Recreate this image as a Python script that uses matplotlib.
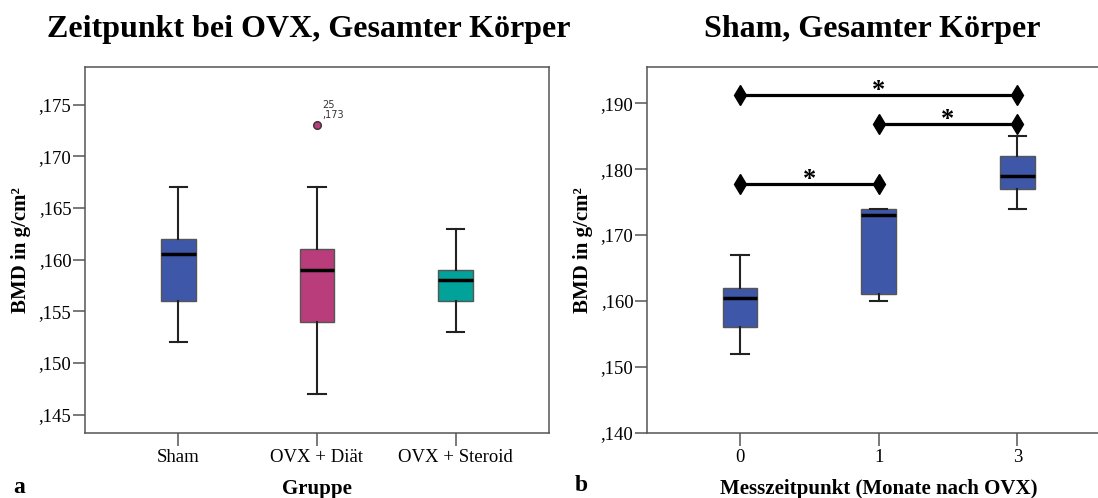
import matplotlib
matplotlib.use("Agg")
import matplotlib.pyplot as plt

# ── Daten ────────────────────────────────────────────────────────────────
groups_a = ["Sham", "OVX + Diät", "OVX + Steroid"]
whislo_a = [0.152, 0.147, 0.153]
q1_a = [0.156, 0.154, 0.156]
med_a = [0.1605, 0.159, 0.158]
q3_a = [0.162, 0.161, 0.159]
whishi_a = [0.167, 0.167, 0.163]
fliers_a = [[], [0.173], []]
flier_label = "25\n,173"
colors_a = ["#3F57A8", "#B83D7A", "#00A29A"]
yticks_a = [0.145, 0.150, 0.155, 0.160, 0.165, 0.170, 0.175]

times_b = ["0", "1", "3"]
whislo_b = [0.152, 0.160, 0.174]
q1_b = [0.156, 0.161, 0.177]
med_b = [0.1605, 0.173, 0.179]
q3_b = [0.162, 0.174, 0.182]
whishi_b = [0.167, 0.174, 0.185]
color_b = "#3F57A8"
yticks_b = [0.140, 0.150, 0.160, 0.170, 0.180, 0.190]
# Signifikanzbalken: (von, bis, Höhe)
sig_pairs = [(0, 1, 0.1777), (1, 2, 0.1869), (0, 2, 0.1912)]

SERIF = ["Liberation Serif", "DejaVu Serif"]
plt.rcParams["font.family"] = SERIF
W, H = 1098, 498


def fmt(v):
    return "," + f"{v:.3f}".split(".")[1]


def style_axes(ax):
    for s in ["top", "right", "left", "bottom"]:
        ax.spines[s].set_color("#555555")
        ax.spines[s].set_linewidth(1.1)
    ax.tick_params(axis="both", direction="out", length=9, width=1.1,
                   color="#555555", labelsize=13.5, right=False, top=False)
    ax.tick_params(axis="y", pad=1)
    ax.tick_params(axis="x", pad=3)


def draw_boxes(ax, lo, q1, med, q3, hi, fl, colors, positions):
    stats = []
    for i in range(len(med)):
        stats.append({"whislo": lo[i], "q1": q1[i], "med": med[i],
                      "q3": q3[i], "whishi": hi[i], "fliers": fl[i]})
    bp = ax.bxp(stats, positions=positions, widths=0.25, patch_artist=True,
                showfliers=True,
                boxprops=dict(edgecolor="#555555", linewidth=1.0),
                medianprops=dict(color="black", linewidth=2.5),
                whiskerprops=dict(color="#222222", linewidth=1.5),
                capprops=dict(color="#222222", linewidth=1.5),
                capwidths=0.125,
                flierprops=dict(marker="o", markersize=5.5,
                                markeredgecolor="#333333", linewidth=0))
    for patch, c in zip(bp["boxes"], colors):
        patch.set_facecolor(c)
    for f, c in zip(bp["fliers"], colors):
        f.set_markerfacecolor(c)
    return bp


def label_axes(ax, ylabel, xlabel):
    ax.set_ylabel(ylabel, fontsize=15, fontweight="bold")
    ax.yaxis.set_label_coords(-0.118, 0.5)
    ax.set_xlabel(xlabel, fontsize=15, fontweight="bold", va="top")
    ax.xaxis.set_label_coords(0.5, -0.126)


fig = plt.figure(figsize=(W / 100, H / 100), dpi=100)

# ── Panel a ──────────────────────────────────────────────────────────────
ax1 = fig.add_axes([85.3 / W, 1 - 432.7 / H, 463.4 / W, 365.4 / H])
pos_a = [1, 2, 3]
draw_boxes(ax1, whislo_a, q1_a, med_a, q3_a, whishi_a, fliers_a, colors_a, pos_a)
ax1.set_xlim(0.33, 3.67)
ax1.set_ylim(0.14326, 0.1786)
ax1.set_yticks(yticks_a)
ax1.set_yticklabels([fmt(v) for v in yticks_a])
ax1.set_xticks(pos_a)
ax1.set_xticklabels(groups_a)
style_axes(ax1)
label_axes(ax1, "BMD in g/cm²", "Gruppe")
ax1.annotate(flier_label, xy=(pos_a[1], fliers_a[1][0]), xytext=(4, 4),
             textcoords="offset points", fontsize=7, family="DejaVu Sans",
             color="#333333", ha="left", va="bottom", linespacing=1.0)
fig.text(309 / W, 1 - 37 / H, "Zeitpunkt bei OVX, Gesamter Körper",
         ha="center", va="baseline", fontsize=23, fontweight="bold")
fig.text(13 / W, 1 - 487 / H, "a", ha="left", va="center",
         fontsize=17, fontweight="bold")

# ── Panel b ──────────────────────────────────────────────────────────────
ax2 = fig.add_axes([647.3 / W, 1 - 432.7 / H, 462.7 / W, 365.4 / H])
pos_b = [0, 1, 2]
draw_boxes(ax2, whislo_b, q1_b, med_b, q3_b, whishi_b, [[], [], []],
           [color_b] * 3, pos_b)
ax2.set_xlim(-0.668, 2.668)
ax2.set_ylim(0.140, 0.19546)
ax2.set_yticks(yticks_b)
ax2.set_yticklabels([fmt(v) for v in yticks_b])
ax2.set_xticks(pos_b)
ax2.set_xticklabels(times_b)
style_axes(ax2)
label_axes(ax2, "BMD in g/cm²", "Messzeitpunkt (Monate nach OVX)")
for a, b, h in sig_pairs:
    ax2.plot([a, b], [h, h], color="black", linewidth=2.3,
             marker="d", markersize=10.5, markerfacecolor="black",
             markeredgecolor="black")
    ax2.annotate("*", xy=((a + b) / 2, h), xytext=(0, -5),
                 textcoords="offset points", ha="center", va="bottom",
                 fontsize=19, fontweight="bold")
fig.text(872 / W, 1 - 37 / H, "Sham, Gesamter Körper",
         ha="center", va="baseline", fontsize=23, fontweight="bold")
fig.text(575 / W, 1 - 485 / H, "b", ha="left", va="center",
         fontsize=17, fontweight="bold")

fig.savefig("out.png", dpi=100)
